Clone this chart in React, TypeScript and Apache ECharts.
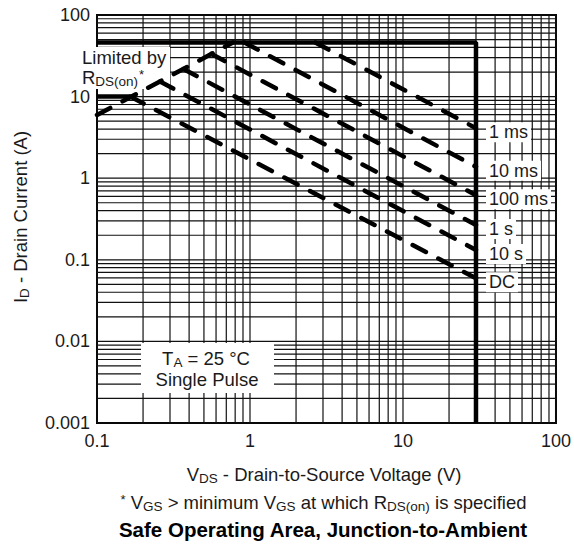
import React, { useEffect, useRef } from 'react';
import * as echarts from 'echarts';

const FONT = '"Liberation Sans", Arial, Helvetica, sans-serif';
const INK = '#1a1a1a';

// Axis ranges and tick labels
const xDecades = [0.1, 1, 10];
const yDecades = [0.001, 0.01, 0.1, 1, 10];
const gridMultipliers = [1, 2, 3, 4, 5, 6, 7, 8, 9];
const xMin = 0.1;
const xMax = 100;
const yMin = 0.001;
const yMax = 100;
const xTickLabels = ['0.1', '1', '10', '100'];
const yTickLabels = ['0.001', '0.01', '0.1', '1', '10', '100'];

// Boundaries
const currentLimit = 46; // A
const voltageLimit = 30; // V

// R_DS(on) limit line (V, A)
const rdsV = [0.1, 0.773];
const rdsI = [5.95, 46];

// Pulse lines: start point (on R_DS(on) / current limit) and end current at 30 V
const pulseNames = ['1 ms', '10 ms', '100 ms', '1 s', '10 s', 'DC'];
const pulseStartV = [2.67, 0.92, 0.56, 0.367, 0.258, 0.165];
const pulseStartI = [46, 46, 33.3, 21.8, 15.3, 10];
const pulseEndI = [4.1, 1.38, 0.62, 0.267, 0.132, 0.0593];

// DC low-voltage plateau
const dcPlateauV = [0.1, 0.165];
const dcPlateauI = 10;

function fmt(v: number) {
  return parseFloat(Number(v).toPrecision(6));
}

export default function App() {
  const ref = useRef<HTMLDivElement>(null);
  useEffect(() => {
    if (!ref.current) return;
    const chart = echarts.init(ref.current, undefined, { renderer: 'svg' });

    const gridData: number[][] = [];
    xDecades.forEach((d) => gridMultipliers.forEach((m) => gridData.push([fmt(d * m), 1, 0])));
    gridData.push([xMax, 1, 0]);
    yDecades.forEach((d) => gridMultipliers.forEach((m) => gridData.push([1, fmt(d * m), 1])));
    gridData.push([1, yMax, 1]);

    const dash = { type: [15, 14] as any, width: 4.5, color: '#000', cap: 'round' as any };

    const mainStyle = { fontSize: 18.5, lineHeight: 18, fontFamily: FONT, color: INK };
    const subStyle = { fontSize: 13.5, lineHeight: 12, fontFamily: FONT, color: INK, padding: [8, 0, 0, 0] };
    const supStyle = { fontSize: 13, lineHeight: 12, fontFamily: FONT, color: INK, padding: [0, 0, 6, 1] };

    const pulseSeries = pulseNames.map((name, i) => ({
      type: 'line',
      name,
      data: [
        [pulseStartV[i], pulseStartI[i]],
        [voltageLimit, pulseEndI[i]],
      ],
      symbol: 'none',
      z: 5,
      lineStyle: dash,
      endLabel: {
        show: true,
        formatter: name,
        color: INK,
        fontSize: 18,
        fontFamily: FONT,
        backgroundColor: '#fff',
        padding: [1, 3, 1, 3],
        distance: 10,
        offset: [0, 4],
      },
    }));

    const option: any = {
      animation: false,
      grid: {
        left: 97,
        right: 18,
        top: 15,
        bottom: 124,
        show: true,
        borderColor: '#000',
        borderWidth: 2,
        backgroundColor: 'transparent',
      },
      xAxis: {
        type: 'log',
        logBase: 10,
        min: xMin,
        max: xMax,
        axisLine: { show: false },
        axisTick: { show: false },
        splitLine: { show: false },
        axisLabel: {
          fontSize: 18,
          fontFamily: FONT,
          color: INK,
          margin: 9,
          formatter: (v: number) => xTickLabels[Math.round(Math.log10(v)) + 1] ?? String(fmt(v)),
        },
      },
      yAxis: {
        type: 'log',
        logBase: 10,
        min: yMin,
        max: yMax,
        axisLine: { show: false },
        axisTick: { show: false },
        splitLine: { show: false },
        axisLabel: {
          fontSize: 18,
          lineHeight: 18,
          fontFamily: FONT,
          color: INK,
          margin: 7,
          formatter: (v: number) => yTickLabels[Math.round(Math.log10(v)) + 3] ?? String(fmt(v)),
        },
      },
      series: [
        {
          type: 'custom',
          z: 1,
          silent: true,
          dimensions: ['x', 'y', 'dir'],
          encode: { x: 0, y: 1 },
          data: gridData,
          renderItem: (params: any, api: any) => {
            const v0 = api.value(0);
            const v1 = api.value(1);
            const dir = api.value(2);
            let p1, p2;
            if (dir === 0) {
              p1 = api.coord([v0, yMin]);
              p2 = api.coord([v0, yMax]);
            } else {
              p1 = api.coord([xMin, v1]);
              p2 = api.coord([xMax, v1]);
            }
            return {
              type: 'line',
              shape: { x1: p1[0], y1: p1[1], x2: p2[0], y2: p2[1] },
              style: { stroke: '#111', lineWidth: 1.2 },
            };
          },
        },
        {
          type: 'line',
          name: 'limit',
          data: [
            [xMin, currentLimit],
            [voltageLimit, currentLimit],
            [voltageLimit, yMin],
          ],
          symbol: 'none',
          z: 6,
          lineStyle: { width: 4.5, color: '#000' },
        },
        {
          type: 'line',
          name: 'dcPlateau',
          data: [
            [dcPlateauV[0], dcPlateauI],
            [dcPlateauV[1], dcPlateauI],
          ],
          symbol: 'none',
          z: 6,
          lineStyle: { width: 4.5, color: '#000' },
        },
        {
          type: 'line',
          name: 'rds',
          data: [
            [rdsV[0], rdsI[0]],
            [rdsV[1], rdsI[1]],
          ],
          symbol: 'none',
          z: 5,
          lineStyle: dash,
        },
        ...pulseSeries,
      ],
      graphic: [
        { type: 'rect', z: 3, shape: { x: 78, y: 47, width: 92, height: 42 }, style: { fill: '#fff' } },
        { type: 'rect', z: 3, shape: { x: 141, y: 343, width: 133, height: 50 }, style: { fill: '#fff' } },
        {
          type: 'text', z: 10, x: 82, y: 57,
          style: {
            text: '{m|Limited by}',
            fill: INK, align: 'left', verticalAlign: 'middle',
            rich: { m: mainStyle },
          },
        },
        {
          type: 'text', z: 10, x: 82, y: 77,
          style: {
            text: '{m|R}{s|DS(on)}{p|*}',
            fill: INK, align: 'left', verticalAlign: 'middle',
            rich: { m: mainStyle, s: subStyle, p: supStyle },
          },
        },
        {
          type: 'text', z: 10, x: 206, y: 358,
          style: {
            text: '{m|T}{s|A}{m| = 25 °C}',
            fill: INK, align: 'center', verticalAlign: 'middle',
            rich: { m: mainStyle, s: subStyle },
          },
        },
        {
          type: 'text', z: 10, x: 207, y: 379,
          style: {
            text: '{m|Single Pulse}',
            fill: INK, align: 'center', verticalAlign: 'middle',
            rich: { m: mainStyle },
          },
        },
        {
          type: 'text', z: 10, x: 20, y: 217, rotation: Math.PI / 2,
          style: {
            text: '{m|I}{s|D}{m| - Drain Current (A)}',
            fill: INK, align: 'center', verticalAlign: 'middle',
            rich: { m: mainStyle, s: subStyle },
          },
        },
        {
          type: 'text', z: 10, x: 324, y: 474,
          style: {
            text: '{m|V}{s|DS}{m| - Drain-to-Source Voltage (V)}',
            fill: INK, align: 'center', verticalAlign: 'middle',
            rich: { m: mainStyle, s: subStyle },
          },
        },
        {
          type: 'text', z: 10, x: 323, y: 502,
          style: {
            text: '{p|*}{m| V}{s|GS}{m| > minimum V}{s|GS}{m| at which R}{s|DS(on)}{m| is specified}',
            fill: INK, align: 'center', verticalAlign: 'middle',
            rich: { m: mainStyle, s: subStyle, p: supStyle },
          },
        },
        {
          type: 'text', z: 10, x: 323, y: 529,
          style: {
            text: 'Safe Operating Area, Junction-to-Ambient',
            font: `bold 20.5px ${FONT}`, fill: '#000', align: 'center', verticalAlign: 'middle',
          },
        },
      ],
    };

    chart.setOption(option);
    return () => chart.dispose();
  }, []);

  return (
    <div
      ref={ref}
      style={{ position: 'fixed', left: 0, top: 0, width: 574, height: 547, background: '#fff' }}
    />
  );
}
